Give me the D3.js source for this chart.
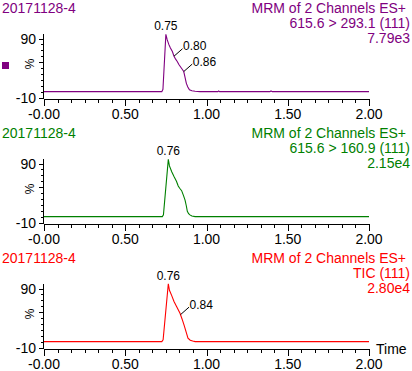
<!DOCTYPE html>
<html>
<head>
<meta charset="utf-8">
<script src="https://cdn.jsdelivr.net/npm/d3@7"></script>
<style>
    body { margin: 0; background: #fff; }
    svg text { font-family: "Liberation Sans", Arial, sans-serif; }
    .hdr { font-size: 14px; }
    .tick-label { font-size: 14px; fill: #000; }
    .peak-label { font-size: 12px; fill: #000; }
</style>
</head>
<body>
<div id="chart"></div>
<script>
    // --- data ---
    const sampleName = "20171128-4";
    const channelTitles = ["MRM of 2 Channels ES+", "MRM of 2 Channels ES+", "MRM of 2 Channels ES+"];
    const channelNames = ["615.6 > 293.1 (111)", "615.6 > 160.9 (111)", "TIC (111)"];
    const intensities = ["7.79e3", "2.15e4", "2.80e4"];
    const colors = ["#800080", "#008000", "#ff0000"];

    const xTickValues = [0, 0.5, 1.0, 1.5, 2.0];
    const xTickLabels = ["-0.00", "0.50", "1.00", "1.50", "2.00"];
    const yTickValues = [90, -10];
    const yTickLabels = ["90", "-10"];

    const times1 = [0, 0.725, 0.732, 0.75, 0.758, 0.768, 0.778, 0.79, 0.80, 0.81, 0.82, 0.83, 0.845, 0.86, 0.868, 0.876, 0.885, 0.895, 0.91, 0.93, 0.96, 1.07, 1.075, 1.08, 1.39, 1.397, 1.405, 2.0];
    const pct1 = [0, 0, 4, 97, 88, 80, 74, 68, 60, 55, 51, 46, 40, 34, 24, 14, 8, 3, 1.5, 0.5, 0, 0, 1.2, 0, 0, 1.2, 0, 0];
    const peaks1 = ["0.75", "0.80", "0.86"];

    const times2 = [0, 0.728, 0.735, 0.765, 0.772, 0.786, 0.80, 0.815, 0.826, 0.835, 0.847, 0.858, 0.868, 0.876, 0.882, 0.89, 0.898, 0.91, 0.93, 2.0];
    const pct2 = [0, 0, 3, 97, 86, 76, 68, 60, 52, 48, 44, 36, 28, 18, 9, 5, 3, 1, 0, 0];
    const peaks2 = ["0.76"];

    const times3 = [0, 0.725, 0.733, 0.765, 0.772, 0.786, 0.80, 0.815, 0.837, 0.85, 0.862, 0.874, 0.886, 0.90, 0.915, 0.93, 2.0];
    const pct3 = [0, 0, 3, 98, 87, 78, 68, 60, 48, 38, 28, 17, 6, 2.5, 1, 0, 0];
    const peaks3 = ["0.76", "0.84"];

    const traces = [
        {t: times1, v: pct1, peaks: peaks1},
        {t: times2, v: pct2, peaks: peaks2},
        {t: times3, v: pct3, peaks: peaks3}
    ];

    const width = 412, height = 371;
    const panelH = 125;

    const svg = d3.select("#chart").append("svg")
        .attr("width", width)
        .attr("height", height);

    svg.append("rect").attr("width", width).attr("height", height).attr("fill", "#fff");

    const x = d3.scaleLinear().domain([0, 2]).range([44, 369]);
    const y = d3.scaleLinear().domain([-12, 98]).range([98.7, 33.8]);

    traces.forEach(function (tr, i) {
        const g = svg.append("g").attr("transform", "translate(0," + (i * panelH) + ")");
        const col = colors[i];

        // headers
        g.append("text").attr("class", "hdr").attr("x", 2).attr("y", 12.7)
            .attr("fill", col).text(sampleName);
        g.append("text").attr("class", "hdr").attr("x", 406).attr("y", 12.7)
            .attr("text-anchor", "end").attr("fill", col).text(channelTitles[i]);
        g.append("text").attr("class", "hdr").attr("x", 410).attr("y", 28)
            .attr("text-anchor", "end").attr("fill", col).text(channelNames[i]);
        g.append("text").attr("class", "hdr").attr("x", 410).attr("y", 43.3)
            .attr("text-anchor", "end").attr("fill", col).text(intensities[i]);

        if (i === 0) {
            g.append("rect").attr("x", 2).attr("y", 62).attr("width", 7).attr("height", 7).attr("fill", col);
        }

        // x axis
        const xAxis = d3.axisBottom(x)
            .tickValues(d3.range(0, 25).map(function (k) { return k / 12; }))
            .tickSize(4)
            .tickFormat("");
        const gx = g.append("g").attr("transform", "translate(0," + y.range()[0] + ")").call(xAxis);
        gx.select(".domain").attr("d", "M" + x(0) + ",0.5H" + x(2)).attr("stroke", "#000");
        gx.selectAll(".tick line").attr("stroke", "#000")
            .attr("y2", function (d) { return Math.abs(d * 2 - Math.round(d * 2)) < 1e-6 ? 7 : 4; });
        gx.attr("shape-rendering", "crispEdges");

        g.selectAll("text.xl").data(xTickValues).enter().append("text")
            .attr("class", "tick-label")
            .attr("x", function (d) { return x(d); })
            .attr("y", y.range()[0] + 20.5)
            .attr("text-anchor", "middle")
            .text(function (d, k) { return xTickLabels[k]; });

        // y axis
        const yAxis = d3.axisLeft(y)
            .tickValues(d3.range(-10, 91, 10))
            .tickSize(3)
            .tickFormat("");
        const gy = g.append("g").attr("transform", "translate(" + x(0) + ",0)").call(yAxis);
        gy.select(".domain").attr("d", "M-0.5," + y.range()[1] + "V" + y.range()[0]).attr("stroke", "#000");
        gy.selectAll(".tick line").attr("stroke", "#000")
            .attr("x2", function (d) { return (d === 90 || d === 50 || d === -10) ? -5 : -3; });
        gy.attr("shape-rendering", "crispEdges");

        g.selectAll("text.yl").data(yTickValues).enter().append("text")
            .attr("class", "tick-label")
            .attr("x", 36)
            .attr("y", function (d) { return y(d); })
            .attr("dy", "0.36em")
            .attr("text-anchor", "end")
            .text(function (d, k) { return yTickLabels[k]; });

        g.append("text").attr("class", "tick-label")
            .attr("transform", "translate(34," + y(47) + ") rotate(-90)")
            .attr("text-anchor", "middle")
            .style("font-size", "12px")
            .text("%");

        // trace
        const pts = tr.t.map(function (t, k) { return [t, tr.v[k]]; });
        g.append("path")
            .datum(pts)
            .attr("fill", "none")
            .attr("stroke", col)
            .attr("stroke-width", 1.1)
            .attr("d", d3.line().x(function (d) { return x(d[0]); }).y(function (d) { return y(d[1]); }));

        // peak labels
        const apex = pts[d3.maxIndex(pts, function (d) { return d[1]; })];
        tr.peaks.forEach(function (lab, k) {
            if (k === 0) {
                g.append("text").attr("class", "peak-label")
                    .attr("x", x(apex[0])).attr("y", y(apex[1]) - 4)
                    .attr("text-anchor", "middle").text(lab);
                return;
            }
            const t = +lab;
            const j = d3.bisector(function (d) { return d[0]; }).left(pts, t);
            const a = pts[j - 1], b = pts[j];
            const v = a[1] + (b[1] - a[1]) * (t - a[0]) / (b[0] - a[0]);
            const px = x(t), py = y(v);
            g.append("line").attr("x1", px).attr("y1", py).attr("x2", px + 8.5).attr("y2", py - 7.5)
                .attr("stroke", "#000").attr("stroke-width", 1);
            g.append("text").attr("class", "peak-label")
                .attr("x", px + 9).attr("y", py - 6).text(lab);
        });

        if (i === 2) {
            g.append("text").attr("class", "tick-label")
                .attr("x", 376).attr("y", y.range()[0] + 5)
                .text("Time");
        }
    });
</script>
</body>
</html>
